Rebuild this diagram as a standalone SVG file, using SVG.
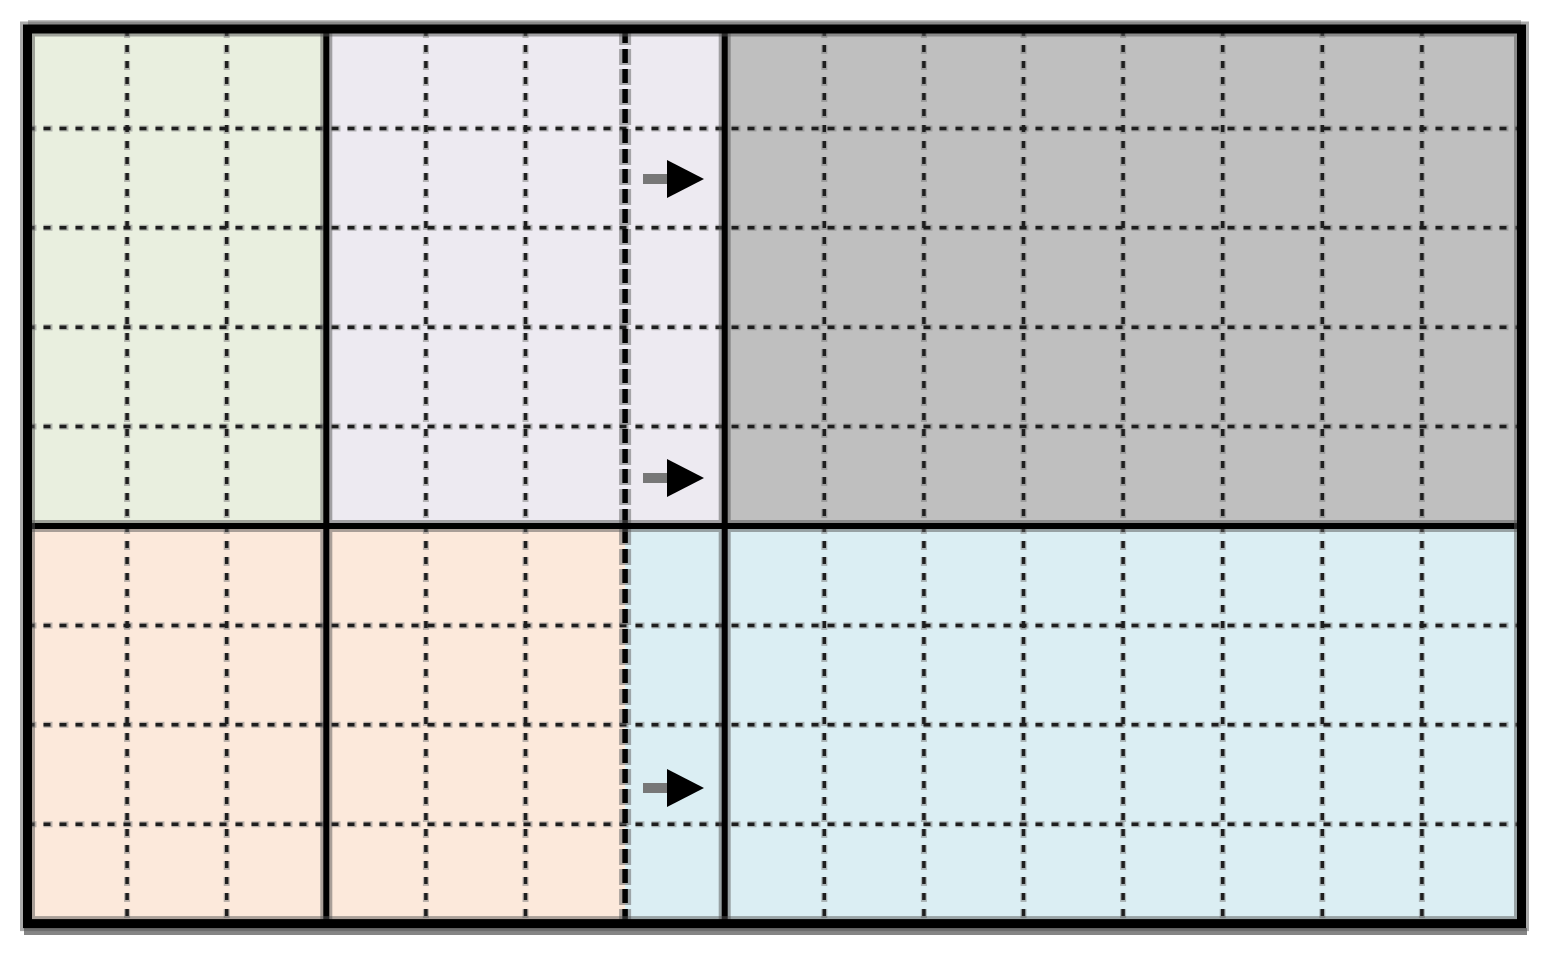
<svg xmlns="http://www.w3.org/2000/svg" width="1548" height="955" viewBox="0 0 1548 955">
<style>
.thin{stroke:#1e1e1e;stroke-width:3.5;stroke-dasharray:7 9;fill:none}
.halo{stroke:#7a7a7a;stroke-opacity:0.5;stroke-width:6;stroke-dasharray:9 7;fill:none}
.solid{stroke:#000;stroke-width:6;fill:none}
.solidhalo{stroke:#555;stroke-opacity:0.5;stroke-width:12;fill:none}
.thick{stroke:#000;stroke-width:5.5;stroke-dasharray:14 6;fill:none}
.shaft{stroke:#777;stroke-width:10}
.head{fill:#000}
</style>
<defs>
<g id="vgrid">
<path d="M127.1 29V923.6M226.7 29V923.6M425.9 29V923.6M525.5 29V923.6M824.3 29V923.6M923.9 29V923.6M1023.5 29V923.6M1123.1 29V923.6M1222.7 29V923.6M1322.3 29V923.6M1421.9 29V923.6"/>
</g>
<g id="hgrid">
<path d="M27.5 128.4H1521.5M27.5 227.8H1521.5M27.5 327.2H1521.5M27.5 426.6H1521.5M27.5 625.4H1521.5M27.5 724.8H1521.5M27.5 824.2H1521.5"/>
</g>
</defs>
<rect width="1548" height="955" fill="#fff"/>
<g id="region-green"><rect x="27.5" y="29" width="298.8" height="497" fill="#e9efdf"/></g>
<g id="region-lavender"><rect x="326.3" y="29" width="398.4" height="497" fill="#edeaf1"/></g>
<g id="region-gray"><rect x="724.7" y="29" width="796.8" height="497" fill="#bfbfbf"/></g>
<g id="region-peach"><rect x="27.5" y="526" width="597.6" height="397.6" fill="#fce9db"/></g>
<g id="region-blue"><rect x="625.1" y="526" width="896.4" height="397.6" fill="#dbeef3"/></g>
<g id="grid">
<use href="#vgrid" class="halo"/>
<use href="#hgrid" class="halo"/>
<use href="#vgrid" class="thin"/>
<use href="#hgrid" class="thin"/>
<path d="M625.1 29V923.6" stroke="#6a6a6a" stroke-opacity="0.55" stroke-width="12" stroke-dasharray="16 4" fill="none"/>
<path class="thick" d="M625.1 29V923.6"/>
</g>
<g id="frame">
<path class="solidhalo" d="M326.3 29V923.6M724.7 29V923.6M27.5 526H1521.5"/>
<path class="solid" d="M326.3 29V923.6M724.7 29V923.6M27.5 526H1521.5"/>
<path d="M28 22.5H1521" stroke="#bdbdbd" stroke-width="5"/>
<path d="M24 931.5H1527" stroke="#858585" stroke-width="7"/>
<rect x="27.5" y="29" width="1494" height="894.6" fill="none" stroke="#555" stroke-opacity="0.5" stroke-width="15"/>
<rect x="27.5" y="29" width="1494" height="894.6" fill="none" stroke="#000" stroke-width="9"/>
</g>
<g id="connectors">
<g id="arrow1"><line class="shaft" x1="643" y1="179" x2="671" y2="179"/><polygon class="head" points="667,160 704,179 667,198"/></g>
<g id="arrow2"><line class="shaft" x1="643" y1="478" x2="671" y2="478"/><polygon class="head" points="667,459 704,478 667,497"/></g>
<g id="arrow3"><line class="shaft" x1="643" y1="788" x2="671" y2="788"/><polygon class="head" points="667,769 704,788 667,807"/></g>
</g>
</svg>
